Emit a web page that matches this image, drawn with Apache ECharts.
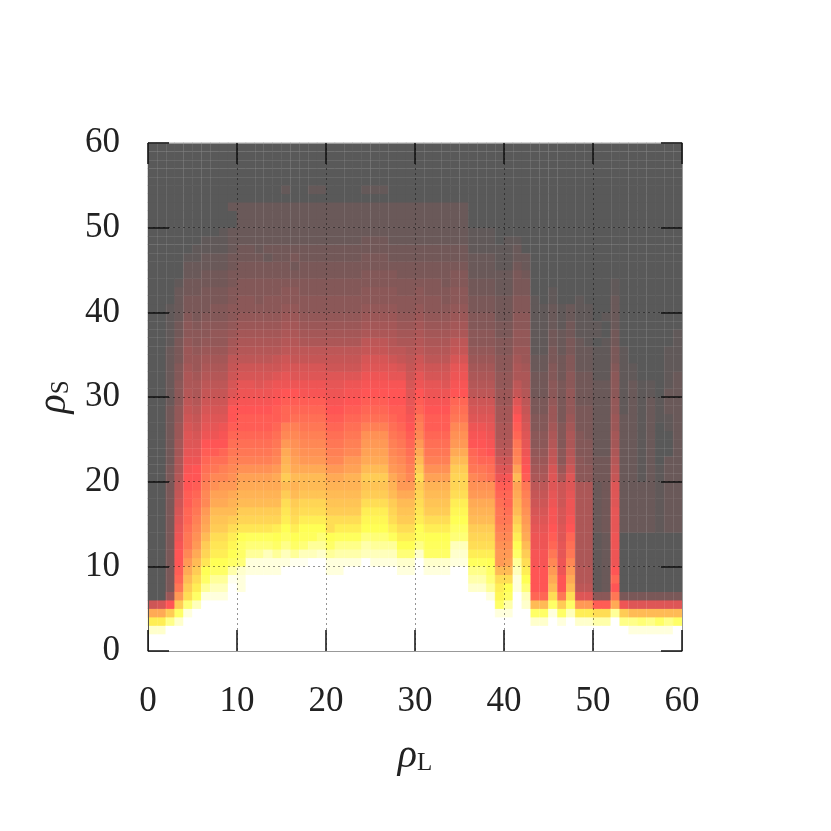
<!DOCTYPE html>
<html>
<head>
<meta charset="utf-8">
<title>heat</title>
<script src="https://cdn.jsdelivr.net/npm/echarts@6/dist/echarts.min.js"></script>
<style>
  html, body { margin: 0; background: #fff; }
  #main { width: 831px; height: 831px; }
</style>
</head>
<body>
<div id="main"></div>
<script>
// colour levels, 0 gray, 10 red, 20 yellow, 30 white
// one list per rho_L column, from rho_S = 0 upwards, missing rows are 0
var levels = [
  [30,30,27,19,15,7],
  [30,30,27,19,15,7.5],
  [30,30,30,23,17,10,4,2,2,2,2,2,2,2,2,2,2,2,2,2,2,2,1.5,1.5,1.5,1.5,1.5,1.5,1.5,1,1,1,1,1,1,1,.5,.5,.5,.5,.5],
  [30,30,30,27,21,17,14,12,11,10.5,10,10,9.5,9,8.5,8,7.5,7,6.5,6,5.5,5,5,4.5,4.5,4,4,3.5,3.5,3,3,3,2.5,2.5,2,2,2,1.5,1.5,1,1,1,1,.5],
  [30,30,30,30,28,22,18,17,16,15,14,13,12,12,11.5,11,11,10.5,10.5,10,10,9.5,9,8.5,8,8,7.5,7,6.5,6,5.5,5,5,4.5,4,4,3.5,3,3,2.5,2,2,1.5,1.5,1,1,.5],
  [30,30,30,30,30,26,21,19,18,17,16,15,14,13.5,13,12.5,12,11.5,11,10.5,10,10,9,8.5,8,7.5,7,6.5,6,5.5,5,5,4.5,4,4,3.5,3,3,2.5,2,2,2,1.5,1.5,1,1,.5,.5],
  [30,30,30,30,30,30,28,24,21,20,18.5,17.5,17,16,15,14.5,14,13,13,12.5,12,11.5,11,10.5,10,9,8.5,8,7.5,7,6.5,6,5.5,5,4.5,4,3.5,3,3,2.5,2,2,2,1.5,1.5,1,1,.5,.5],
  [30,30,30,30,30,30,28,26,24,21,20,19,18.5,18,17,16.5,16,15,14.5,13.5,13,12,11.5,10.5,10,9,8.5,8,7.5,7,6.5,6,5.5,5,4.5,4,3.5,3.5,3,2.5,2.5,2,2,1.5,1.5,1,1,.5,.5],
  [30,30,30,30,30,30,28,26,24,21,20,19,18.5,18,17,16.5,16,15,14.5,14,13,12.5,11.5,11,10,9.5,9,8,7.5,7,6.5,6,5.5,5,4.5,4,3.5,3.5,3,2.5,2.5,2,2,1.5,1.5,1,1,.5,.5,.5],
  [30,30,30,30,30,30,30,30,29,25,21,20,19.5,19,18,17,16,15.5,15,14,13.5,13,12.5,12,11.5,11,10.5,10,10,9,8,7.5,7,6.5,6,5,4.5,4,3.5,3,3,2.5,2.5,2,2,1.5,1.5,1,1,1,0,0,1],
  [30,30,30,30,30,30,30,28,28,27,22,21,21,20,18.5,17.5,17,16,15.5,15,14.5,13.5,12.5,12,11.5,11,10.5,10.5,10,9.5,9,8.5,7.5,7,6,5.5,5,4.5,4,3.5,3,3,2.5,2.5,2,2,1.5,1.5,1,1,1,1,1],
  [30,30,30,30,30,30,30,30,30,28,28,24,22,20.5,18.5,17.5,17,16,15.5,15,14.5,13.5,12.5,12,11.5,11,10.5,10.5,10,9.5,9,8.5,7.5,7,6,5.5,5,4.5,4,3.5,3,3,2.5,2.5,2,2,1.5,1.5,1,1,1,1,1],
  [30,30,30,30,30,30,30,30,30,28,28,24,22,20.5,18.5,17.5,17,16,15.5,15,14.5,13.5,12.5,12,11.5,11,10.5,10.5,10,9.5,9,8,7.5,7,6,5.5,5,4.5,4,3.5,3,2.5,2.5,2.5,2,2,1.5,1,1,1,1,1,1],
  [30,30,30,30,30,30,30,30,30,28,28,26,22,20.5,18.5,17.5,17,16,15.5,15,14.5,13.5,12.5,12,11.5,11,10.5,10.5,10,9.5,9,8.5,7.5,7,6,5.5,5,4.5,4,3.5,3,3,2.5,2.5,2,2,1,1.5,1,1,1,1,1],
  [30,30,30,30,30,30,30,30,30,28,28,24,21,20,19,17.5,17,16,15.5,15,15,14,13,12.5,12,11.5,11,10.5,10.5,10,9.5,9,8,7,6.5,5.5,5,4.5,4,3.5,3,3,2.5,2.5,2,2,1.5,1.5,1,1,1,1,1],
  [30,30,30,30,30,30,30,30,30,30,28,26,23,21,20,19,18.5,18,17,16,17,16,15.5,15,14,13,12.5,11,11,10.5,10,9,8.5,7.5,7,6,5.5,5,4.5,4,3.5,3,3,2.5,2,2,1.5,1.5,1,1,1,1,1,0,.7],
  [30,30,30,30,30,30,30,30,30,30,29,24,21,20,19,18,17.5,17,16,15.5,16,15,14.5,14,13.5,13,12.5,11.5,11,10.5,10,9,8,7.5,6.5,6,5.5,5,4.5,4,3.5,3,3,2.5,2,1.5,2,1.5,1,1,1,1,1],
  [30,30,30,30,30,30,30,30,30,30,29,26,22,20.5,20,19,18,17.5,16.5,16,16,15,14,13.5,13,12.5,12,11.5,11,10.5,9.5,9,8,7.5,6.5,6,5,4.5,4,3.5,3,3,2.5,2.5,2,2,1.5,1.5,1,1,1,1,1],
  [30,30,30,30,30,30,30,30,30,30,30,26,24,20.5,20,19,18,17.5,16.5,16,16,15,14,13.5,13,12.5,12,11.5,11,10.5,9.5,9,8,7.5,6.5,6,5,4.5,4,3.5,3,3,2.5,2.5,2,2,1.5,1.5,1,1,1,1,1,0,.7],
  [30,30,30,30,30,30,30,30,30,30,30,27,24,22,20,19,18,17.5,16.5,16,16,15,14,13.5,13,12.5,12,11.5,11,10.5,9.5,9,8,7.5,6.5,6,5,4.5,4,3.5,3,3,2.5,2.5,2,2,1.5,1.5,1,1,1,1,1,0,.7],
  [30,30,30,30,30,30,30,30,30,28,28,24,21,20,18,18,17,16.5,16,15.5,15,14,13,12.5,12,11.5,11,10.5,10,9.5,9,8.5,8,7,6.5,6,5,4.5,4,3.5,3,3,2.5,2.5,2,2,1.5,1.5,1,1,1,1,1],
  [30,30,30,30,30,30,30,30,30,28,28,25,23,20.5,19,18,17,16.5,16,15.5,15,14,13,12.5,12,11.5,11,10.5,10,9.5,9,8.5,8,7,6.5,6,5,4.5,4,3.5,3,3,2.5,2.5,2,2,1.5,1.5,1,1,1,1,1],
  [30,30,30,30,30,30,30,30,30,30,28,25,23,20.5,19,18,17,16.5,16,15.5,15.5,14.5,14,13,12.5,12,11.5,11,10.5,10,9.5,9,8,7,6.5,6,5,4.5,4,3.5,3,3,2.5,2.5,2,2,1.5,1.5,1,1,1,1,1],
  [30,30,30,30,30,30,30,30,30,30,28,25,23,20.5,19,18,17,16.5,16,15.5,15.5,14.5,14,13,12.5,12,11.5,11,10.5,10,9.5,9,8,7,6.5,6,5,4.5,4,3.5,3,3,2.5,2.5,2,2,1.5,1.5,1,1,1,1,1],
  [30,30,30,30,30,30,30,30,30,30,30,26,25,22.5,20,19.5,19,18,17,16.5,17,16,15,14.5,14,13.5,12.5,11.5,11,10.5,10,9.5,9,8,7.5,6.5,6,5,4.5,4,3.5,3,3,2.5,2.5,2,2,1.5,1.5,1,1,1,1,0,.7],
  [30,30,30,30,30,30,30,30,30,30,28,26,24,22,20,19.5,19,18,17,16.5,17,16,15,14.5,14,13.5,12.5,11.5,11,10.5,10,9.5,9,8,7.5,6.5,6,5,4.5,4,3.5,3,3,2.5,2.5,2,2,1.5,1.5,1,1,1,1,0,.7],
  [30,30,30,30,30,30,30,30,30,30,28,26,24,22,20,19.5,19,18,17,16.5,17,16,15,14.5,14,13.5,12.5,11.5,11,10.5,10,9.5,9,8,7.5,6.5,6,5,4.5,4,3.5,3,3,2.5,2.5,2,2,1.5,1.5,1,1,1,1,0,.7],
  [30,30,30,30,30,30,30,30,30,30,28,26,24,20.5,19,18,17.5,17,16,15.5,15,14,13.5,13,12.5,12,11.5,11,10.5,10,10,9.5,8.5,8,7,6,5.5,5,4.5,4,3.5,3,3,2.5,2.5,2,1.5,1.5,1,1,1,1,1],
  [30,30,30,30,30,30,30,30,30,28,27,22,20,19,18,17,16.5,16,15,14,14,13.5,13,12.5,12,11.5,11,10.5,10.5,10,10,9.5,8.5,7.5,6.5,6,5,4.5,4,3.5,3,3,2.5,2.5,2,2,1.5,1.5,1,1,1,1,1],
  [30,30,30,30,30,30,30,30,30,28,27,22,20,19,18,17,16.5,16,15,14,13,12.5,12,11.5,11,10.5,10,9.5,9,8.5,8,7.5,7,6.5,6,5.5,5,4.5,4,3.5,3,3,2.5,2.5,2,2,1.5,1.5,1,1,1,1,1],
  [30,30,30,30,30,30,30,30,30,30,30,27,23,20.5,20,19,18.5,18,17.5,17,18,17,16,15,14,13,12.5,12,11,10.5,10,9,8.5,7.5,7,6,5.5,5,4.5,4,3.5,3,3,2.5,2,2,1.5,1.5,1,1,1,1,1],
  [30,30,30,30,30,30,30,30,30,28,27,21,20.5,20,19,18,17,16.5,16,15.5,14.5,13.5,12.5,12,11.5,11,10.5,10.5,10,9.5,9,8.5,7.5,7,6,5.5,5,4.5,4,3.5,3,3,2.5,2.5,2,2,1.5,1.5,1,1,1,1,1],
  [30,30,30,30,30,30,30,30,30,28,27,21,20.5,20,19,18,17,16.5,16,15.5,14.5,13.5,12.5,12,11.5,11,10.5,10.5,10,9.5,9,8.5,7.5,7,6,5.5,5,4.5,4,3.5,3,3,2.5,2.5,2,2,1.5,1.5,1,1,1,1,1],
  [30,30,30,30,30,30,30,30,30,28,27,21,20.5,20,19,18,17,16.5,16,15.5,14.5,13.5,12.5,12,11.5,11,10.5,10.5,10,9.5,9,8,7.5,7,6,5.5,5,4.5,4,3.5,3,2.5,2.5,2,2,2,1.5,1.5,1,1,1,1,1],
  [30,30,30,30,30,30,30,30,30,30,28,27,26,22,21,20,19.5,19,18,17.5,17.5,17,16,15,14,13.5,13,12,11.5,11,10,9.5,9,8.5,7.5,6.5,6,5,4.5,4,3.5,3,3,2.5,2.5,2,1.5,1.5,1,1,1,1,1],
  [30,30,30,30,30,30,30,30,30,30,28,27,26,22,21,20,19.5,19,18,17.5,17.5,17,16,15,14,13.5,13,12,11.5,11,10,9.5,9,8.5,7.5,6.5,6,5,4.5,4,3.5,3,3,2.5,2.5,2,1.5,1.5,1,1,1,1,1],
  [30,30,30,30,30,30,30,27,25,23,20.5,19,18,17.5,17,16,15.5,15,14,13.5,13,12,11.5,11,10,9.5,9,8,7.5,7,6,5.5,5,4.5,4,3.5,3,3,2.5,2.5,2,2,1.5,1.5,1,1,1,.5,.5,.5],
  [30,30,30,30,30,30,30,27,25,23,20.5,19,18,17.5,17,16,15.5,15,14,13.5,12.5,12,11,10.5,10,9.5,9,8,7.5,7,6,5.5,5,4.5,4,3.5,3,3,2.5,2.5,2,2,1.5,1.5,1,1,1,.5,.5,.5],
  [30,30,30,30,30,30,28,24,22,21,20,19,18,17.5,17,16,15.5,15,14,13.5,12,11.5,11,10,9.5,9,8.5,8,7.5,7,6,5.5,5,4.5,4,3.5,3,3,2.5,2.5,2,2,1.5,1.5,1,1,1,.5,.5,.5],
  [30,30,30,30,28,21,19.5,19,18,16,14,14,13.5,13,12.5,12,12,11.5,11,10.5,9,8,7,6,5.5,5,5,4.5,4.5,4,4,3.5,3.5,3,3,2.5,2.5,2,2,1.5,1.5,1.5,1,1,1,.5,.5,.5],
  [30,30,30,30,28,25,21,20,18,16,14.5,14,13.5,13,12.5,12,11.5,11,11,10.5,9.5,8,7,6,5.5,5,5,4.5,4.5,4,4,3.5,3.5,3,3,2.5,2.5,2,2,1.5,1.5,1.5,1,1,1,.5,.5,.5,.5],
  [30,30,30,30,30,30,30,28,28,26,24,21,20,19,18,17,16,15.5,15,14.5,16,14.5,13,12.5,12,11,10.5,10,9,8,6.5,6,5,5,4.5,4,3.5,3.5,3,3,2.5,2.5,2,2,2,1.5,1,1,.5],
  [30,30,30,30,30,27,26,22,20,19,18,17,16,15,14.5,14,13.5,13,12.5,12,10.5,10,9.5,9,8.5,8,7.5,7,6.5,6,5.5,5,5,4.5,4,4,3.5,3.5,3,3,2.5,2.5,2,2,1.5,1,1],
  [30,30,30,27,21,16,11,10,10,10,9.5,9.5,9,9,8.5,8,7.5,7,6.5,6,5,4.5,4,3.5,3,3,2.5,2.5,2,2,1.5,1.5,1.5,1,1,.5,.5,.5,.5,.5,.5,.5],
  [30,30,30,27,21,16,11,10,10,10,9.5,9.5,9,9,8.5,8,7.5,7,6.5,6,5,4.5,4,3.5,3,3,2.5,2.5,2,2,1.5,1.5,1.5,1,1,.5,.5,.5,.5,.5,.5],
  [30,30,30,30,28,21,18,16,15,14,13,12,11,10.5,10,9.5,9.5,9,8.5,8,8,7.5,6.5,6,5.5,5,4.5,4,4,3.5,3,3,2.5,2.5,2,2,1.5,1.5,1,1,1,.5,.5],
  [30,30,30,28,21,17,12,10,10,9,9,8.5,8.5,8,8,7.5,7.5,7,7,7,5,4,3,3,2.5,2.5,2.5,2,2,2,2,2,1.5,1.5,1.5,1,1,1,.5,.5,.5],
  [30,30,30,30,26,21,18,16,15,14,13,12,11.5,11,10,9.5,9,9,8.5,8,8,7,6,5.5,5,5,4.5,4,3.5,3.5,3.5,3,3,2.5,2.5,2,2,1.5,1.5,1,1],
  [30,30,30,27,19,14,8,6,5.5,5.5,5,5,5,5,5,5,5,5,5,5,3,3,3,2.5,2.5,2.5,2,2,2,1.5,1.5,1.5,1.5,1,1,1,1,.5,.5,.5,.5,.5],
  [30,30,30,27,19,14,8,6,5.5,5.5,5,5,5,5,5,5,5,5,5,5,3,3,2.5,2.5,2.5,2,2,2,2,1.5,1.5,1.5,1.5,1,1,1,.5,.5,.5,.5,.5],
  [30,30,30,25,18,10.5,3,.5,.5,.5,.5,.5,.5,.5,1,1,1,1,1,1,1.5,1.5,1.5,1,1,1,1,1,1,1,1,1,.5,.5,.5,.5,0,.5,.5],
  [30,30,30,25,18,10.5,3,1,1,1,1,1,1,1,1.5,1.5,1.5,1.5,1.5,1.5,1.5,1.5,1.5,1,1,1,1,1,1,1,1,1,.5,.5,.5,.5,.5,0,0,.5],
  [30,30,30,30,24,15,12,10,11,10,9,9,9,9,8.5,8.5,8.5,8,8,8,6.5,6,5.5,5,4.5,4.5,4,4,3.5,3.5,3,3,3,2.5,2,2,1.5,1.5,1,1,1,1,.5,.5],
  [30,30,30,23,17,9,2,0,0,0,0,0,0,0,1,1,1,1,1,1,1,1,1,1,1,1,1,1,.5,.5,.5,.5,.5,.5,.5,.5],
  [30,30,28,23,16,8,2,0,0,0,0,0,0,0,1,1,1,1,1,1,1,1,1,1,1,1,1,1,1,1,1,1,.5,.5],
  [30,30,28,22,16,8,2,0,0,0,0,0,0,0,1,1,1,1,1,1,.3,.3,.3,.3,.3,.3,.3,.3,.3,.3,.3,.3],
  [30,30,28,23,16,8,2,0,0,0,0,0,0,0,1,1,1,1,1,1,1,1,1,1,1,1,1,1,1,1,.5,.5],
  [30,30,28,21,16,8,2,0,0,0,0,0,0,0,.5,.5,.5,.5,.5,.5,.3,.3,0,0,0,0,0,.3,.3,.3],
  [30,30,28,23,16,8,2,0,0,0,0,0,0,0,1,1,1,1,1,1,1,1,1,0,0,0,.5,.5,1,1,1,.5,.5,.5,.5,.5],
  [30,30,30,21,16,8,2,0,0,0,0,0,0,0,1,1,1,1,1,1,1,1,1,1,1,1,1,1,1,1,1,1,1,.5,.5,.5,.5,.5]
];

// faint seams in the original raster
var seamL = [1, 2, 4, 6, 7, 12, 13, 16, 17, 18, 22, 25, 27, 31, 33, 35, 37, 38, 39, 41, 43, 44, 45, 46, 48, 49, 52, 54, 56, 58, 59];
var seamS = [21, 22, 23, 24, 36, 37, 38, 39, 47, 48, 49, 56, 57, 58, 59];

var cellNames = [];
for (var i = 0; i < 60; i++) cellNames.push(String(i));

var heatData = [];
levels.forEach(function (col, x) {
  for (var y = 0; y < 60; y++) {
    heatData.push([x, y, col[y] || 0]);
  }
});

var seamLines = [];
seamL.forEach(function (v) { seamLines.push({ xAxis: v }); });
seamS.forEach(function (v) { seamLines.push({ yAxis: v }); });

var font = '"Liberation Serif", serif';
var tickStyle = { color: '#111', width: 1.5 };
var gridDash = { color: 'rgba(0,0,0,0.42)', type: [2, 3], width: 1 };

function rhoAxis(position, showLabels, lineColor) {
  return {
    type: 'value',
    position: position,
    min: 0,
    max: 60,
    interval: 10,
    z: 6,
    axisLine: { show: true, onZero: false, lineStyle: { color: lineColor, width: 1 } },
    axisTick: { show: true, inside: true, length: 21, lineStyle: tickStyle },
    axisLabel: { show: showLabels, fontFamily: font, fontSize: 35, color: '#222', margin: 28 },
    splitLine: { show: false }
  };
}

function addName(axis, sub, gap) {
  axis.name = '{rho|ρ}{sub|' + sub + '}';
  axis.nameLocation = 'middle';
  axis.nameGap = gap;
  axis.nameTextStyle = {
    rich: {
      rho: { fontFamily: font, fontStyle: 'italic', fontSize: 40, color: '#222', verticalAlign: 'middle' },
      sub: { fontFamily: font, fontSize: 25, color: '#222', padding: [14, 0, 0, 0], verticalAlign: 'middle' }
    }
  };
  axis.splitLine = { show: true, lineStyle: gridDash };
  return axis;
}

var bottomAxis = addName(rhoAxis('bottom', true, '#999'), 'L', 85);
bottomAxis.axisLabel.margin = 33;

var leftAxis = addName(rhoAxis('left', true, '#555'), 'S', 69);
leftAxis.nameRotate = 90;

var chart = echarts.init(document.getElementById('main'), null, { renderer: 'canvas' });
chart.setOption({
  animation: false,
  backgroundColor: '#fff',
  grid: { left: 148, top: 143, width: 534, height: 508 },
  xAxis: [
    { type: 'category', data: cellNames, show: false, position: 'bottom' },
    bottomAxis,
    rhoAxis('top', false, '#999')
  ],
  yAxis: [
    { type: 'category', data: cellNames, show: false, position: 'left' },
    leftAxis,
    rhoAxis('right', false, '#999')
  ],
  visualMap: {
    show: false,
    min: 0,
    max: 30,
    seriesIndex: 0,
    dimension: 2,
    inRange: { color: ['#595959', '#ff5555', '#ffff55', '#ffffff'] }
  },
  series: [
    {
      type: 'heatmap',
      xAxisIndex: 0,
      yAxisIndex: 0,
      data: heatData,
      progressive: 0,
      emphasis: { disabled: true }
    },
    {
      type: 'line',
      xAxisIndex: 1,
      yAxisIndex: 1,
      data: [],
      z: 4,
      markLine: {
        silent: true,
        symbol: 'none',
        label: { show: false },
        animation: false,
        lineStyle: { color: 'rgba(255,255,255,0.09)', type: 'solid', width: 1 },
        data: seamLines
      }
    }
  ]
});
</script>
</body>
</html>
